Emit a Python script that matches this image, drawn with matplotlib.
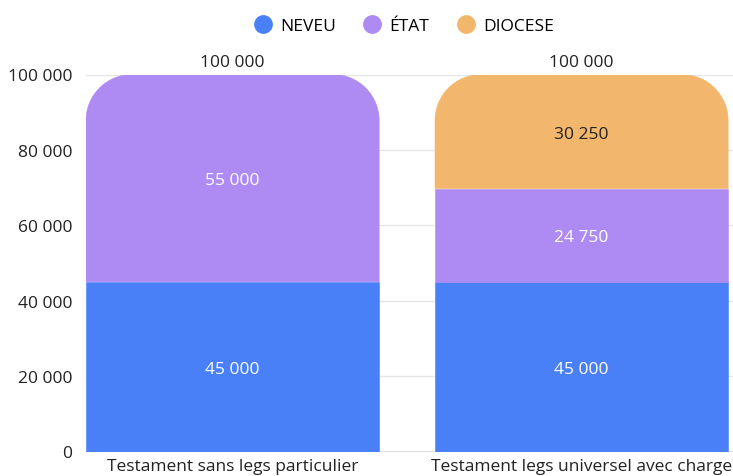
import matplotlib
matplotlib.use("Agg")
import matplotlib.pyplot as plt
from matplotlib.path import Path
from matplotlib.patches import PathPatch
from matplotlib.lines import Line2D
import numpy as np

categories = ["Testament sans legs particulier", "Testament legs universel avec charge"]
series_names = ["NEVEU", "ÉTAT", "DIOCESE"]
neveu = [45000, 45000]
etat = [55000, 24750]
diocese = [0, 30250]
colors = ["#4A80F7", "#AE8BF2", "#F2B76C"]
label_colors = ["white", "white", "#222222"]
yticks = [0, 20000, 40000, 60000, 80000, 100000]

plt.rcParams['font.family'] = ['Open Sans', 'DejaVu Sans']
FS = 12.5

W, H = 733, 477
fig = plt.figure(figsize=(W/100, H/100), dpi=100)
ax_l, ax_r = 86, 733
ax_t, ax_b = 75.5, 452.5
ax = fig.add_axes([ax_l/W, 1-ax_b/H, (ax_r-ax_l)/W, (ax_b-ax_t)/H])

bw = 0.84
x = np.arange(len(categories))
ax.set_xlim(-bw/2, -bw/2 + (ax_r-ax_l)/349)
ax.set_ylim(0, 100000)

def fmt(v):
    return f"{int(round(v)):,}".replace(",", " ")

series = [neveu, etat, diocese]
totals = np.sum(series, axis=0)
rx = 46/349
ry = 46 * 100000/(ax_b-ax_t)
k = 0.5523
bottoms = np.zeros(len(categories))
for si, vals in enumerate(series):
    for ci, v in enumerate(vals):
        if v <= 0:
            continue
        b = bottoms[ci]
        top = b + v
        x0, x1 = x[ci]-bw/2, x[ci]+bw/2
        if np.isclose(top, totals[ci]):
            verts = [(x0, b), (x0, top-ry),
                     (x0, top-ry+k*ry), (x0+rx-k*rx, top), (x0+rx, top),
                     (x1-rx, top),
                     (x1-rx+k*rx, top), (x1, top-ry+k*ry), (x1, top-ry),
                     (x1, b), (x0, b)]
            codes = [Path.MOVETO, Path.LINETO,
                     Path.CURVE4, Path.CURVE4, Path.CURVE4,
                     Path.LINETO,
                     Path.CURVE4, Path.CURVE4, Path.CURVE4,
                     Path.LINETO, Path.CLOSEPOLY]
            ax.add_patch(PathPatch(Path(verts, codes), facecolor=colors[si], edgecolor=colors[si],
                                   linewidth=0.4, zorder=2))
        else:
            ax.bar(x[ci], v, bw, bottom=b, color=colors[si], edgecolor=colors[si], zorder=2, linewidth=0.4)
        ax.text(x[ci], b+v/2, fmt(v), ha='center', va='center_baseline', color=label_colors[si], fontsize=FS, zorder=3)
        bottoms[ci] = top

for ci in range(len(categories)):
    ax.text(x[ci], totals[ci]+1300, fmt(totals[ci]), ha='center', va='bottom', color='#222222', fontsize=FS, clip_on=False)

for s in ax.spines.values():
    s.set_visible(False)
ax.set_yticks(yticks)
ax.set_yticklabels([fmt(t) for t in yticks], fontsize=FS, color='#222222')
ax.tick_params(axis='y', length=0, pad=10)
ax.set_xticks(x)
ax.set_xticklabels(categories, fontsize=FS, color='#222222')
ax.tick_params(axis='x', length=0, pad=5)
ax.yaxis.grid(True, color='#e6e6e6', linewidth=1, zorder=0)
ax.set_axisbelow(True)
ax.axhline(0, color='#d9d9d9', linewidth=1.2, zorder=1)

handles = [Line2D([0], [0], marker='o', linestyle='', markersize=12.5, markerfacecolor=c, markeredgecolor=c) for c in colors]
fig.legend(handles, series_names, loc='center', bbox_to_anchor=(404/W, 1-27/H), ncol=3, frameon=False,
           fontsize=FS, handletextpad=0.5, columnspacing=1.6, handlelength=1.0)

fig.savefig("out.png", dpi=100)
